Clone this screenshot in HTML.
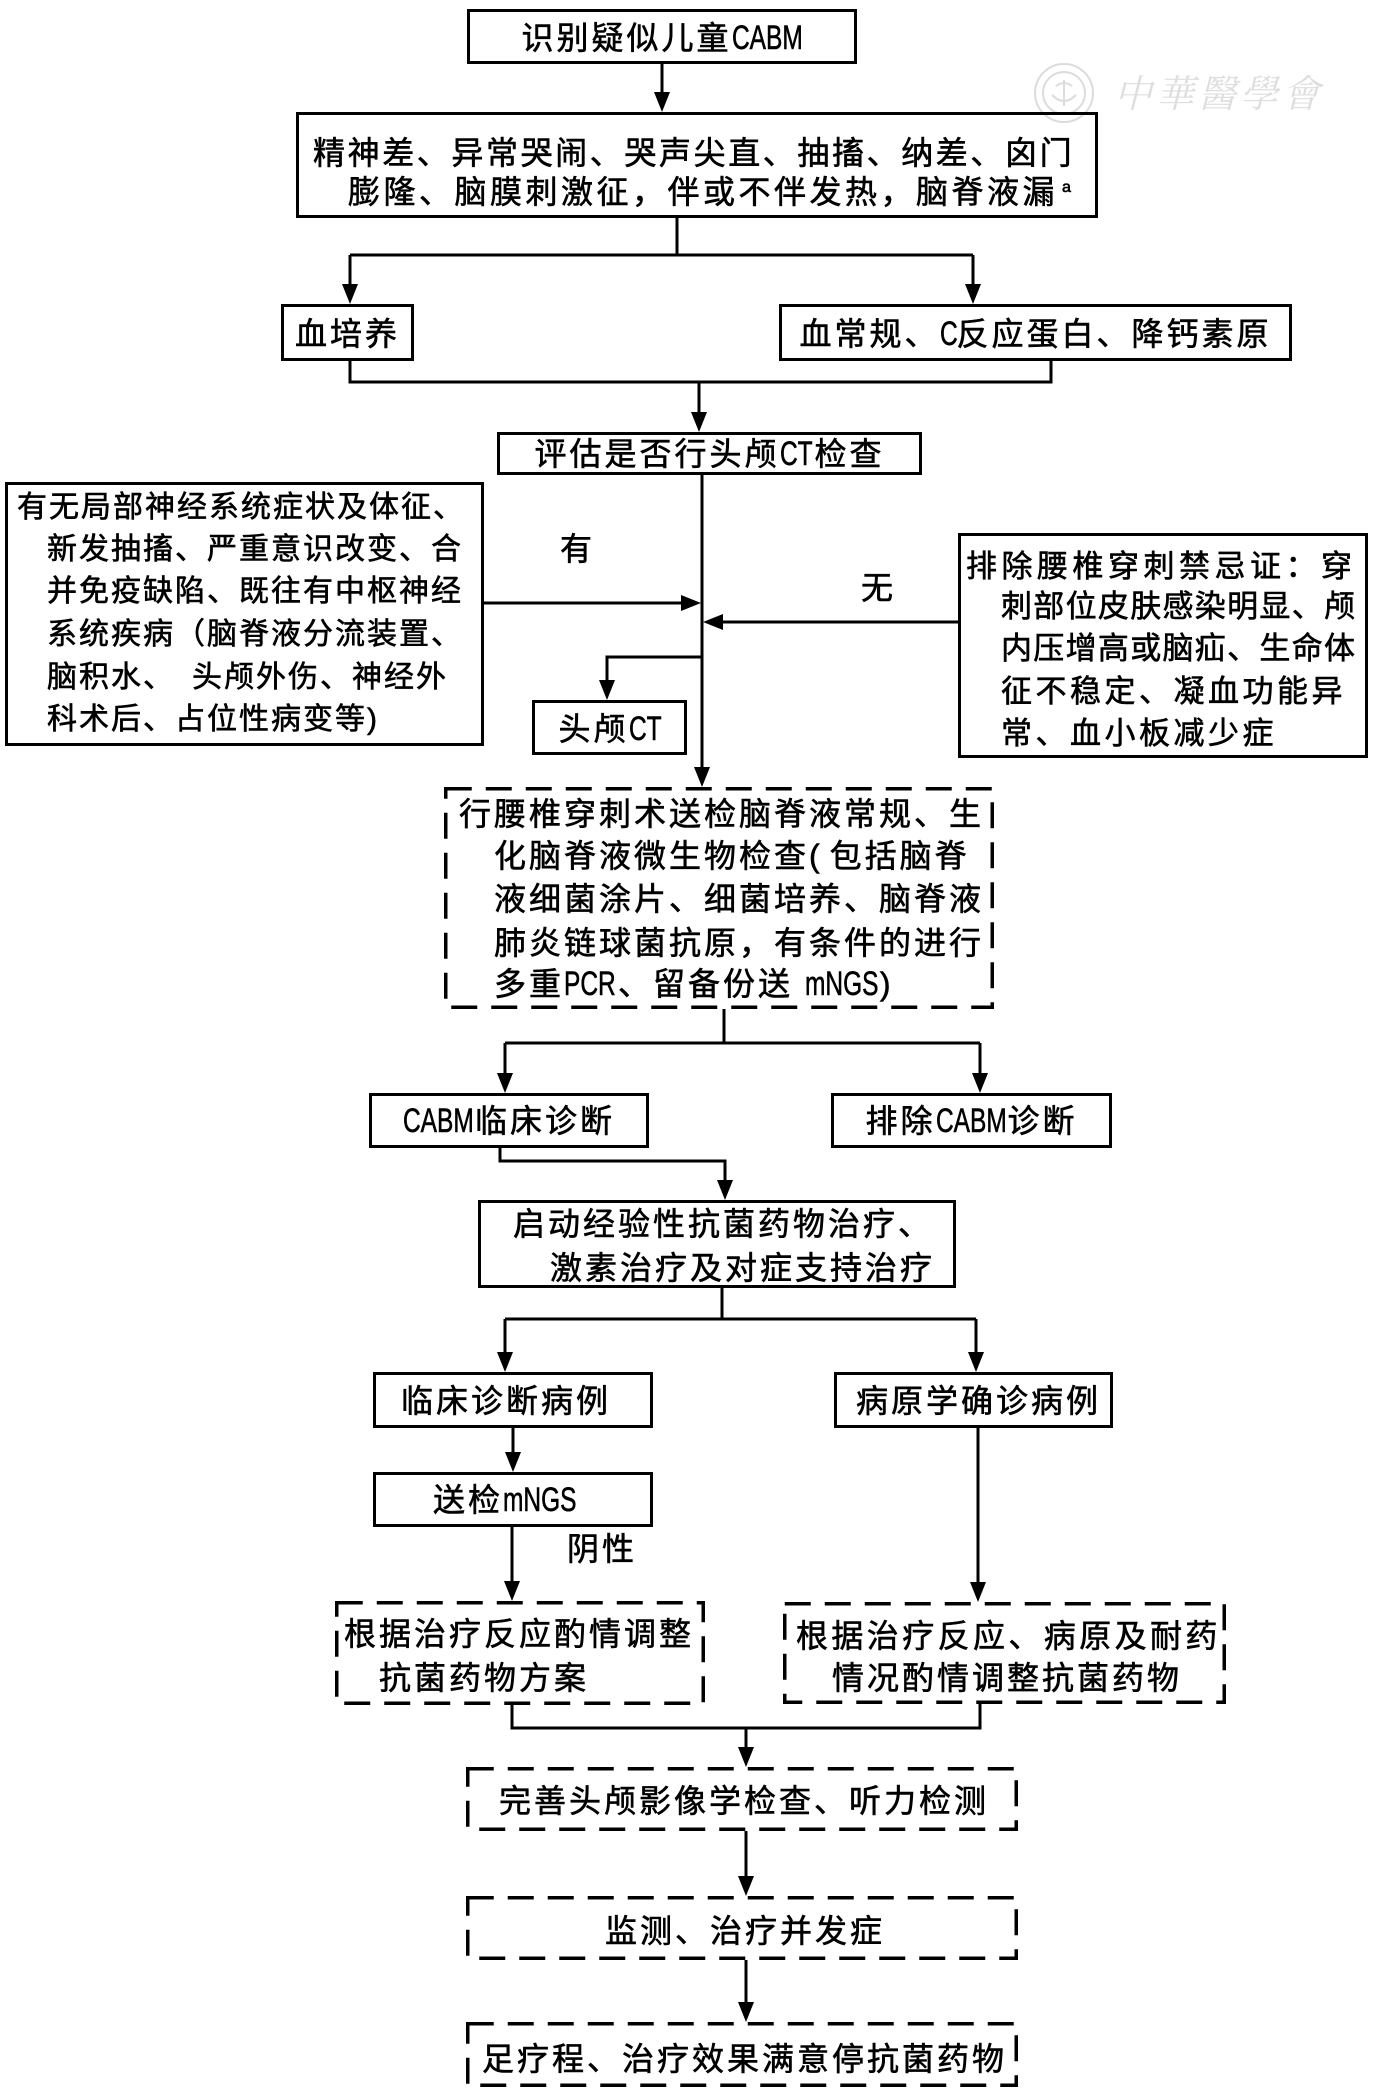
<!DOCTYPE html>
<html><head><meta charset="utf-8">
<style>
html,body{margin:0;padding:0;background:#fff;}
#wrap{position:relative;width:1378px;height:2096px;overflow:hidden;background:#fff;}
svg{position:absolute;left:0;top:0;}
.t{position:absolute;white-space:nowrap;font-family:"Liberation Sans","Noto Sans CJK SC",sans-serif;font-size:32px;line-height:32px;letter-spacing:3px;color:#000;-webkit-text-stroke:0.6px #000;}
.c{text-align:center;}
.L{display:inline-block;white-space:nowrap;letter-spacing:0;font-size:34px;vertical-align:baseline;}
.L b{display:inline-block;font-weight:normal;transform:scaleX(.72);transform-origin:0 0;}
.s30{font-size:30px;line-height:30px;letter-spacing:2px;}
.s31{font-size:31px;line-height:31px;}
.wm{position:absolute;font-family:"Liberation Serif","Noto Serif CJK SC",serif;font-size:38px;line-height:38px;color:#dedede;letter-spacing:4px;transform:skewX(-14deg);white-space:nowrap;}
</style></head><body><div id="wrap">
<svg width="1378" height="2096" viewBox="0 0 1378 2096">
<g fill="none" stroke="#dcdcdc" stroke-width="2">
<circle cx="1064" cy="93" r="29"/>
<circle cx="1064" cy="93" r="21"/>
<path d="M1052 95 q12 12 24 0 M1064 80 v26 M1056 86 q8 -6 16 0"/>
</g>
<g fill="none" stroke="#000" stroke-width="3">
<rect x="468.5" y="10.5" width="387" height="52"/>
<rect x="297.5" y="113.5" width="799" height="103"/>
<rect x="282.5" y="305.5" width="130" height="54"/>
<rect x="780.5" y="305.5" width="510" height="54"/>
<rect x="498.5" y="433.5" width="422" height="40"/>
<rect x="6.5" y="483.5" width="476" height="261"/>
<rect x="959.5" y="534.5" width="407" height="222"/>
<rect x="533.5" y="701.5" width="152" height="52"/>
<rect x="370.5" y="1094.5" width="277" height="52"/>
<rect x="832.5" y="1094.5" width="278" height="52"/>
<rect x="479.5" y="1201.5" width="475" height="85"/>
<rect x="374.5" y="1373.5" width="277" height="53"/>
<rect x="835.5" y="1373.5" width="276" height="53"/>
<rect x="374.5" y="1473.5" width="277" height="52"/>
</g>
<g fill="none" stroke="#000" stroke-width="3.5" stroke-dasharray="26 14">
<rect x="445.75" y="788.75" width="546.5" height="218.5"/>
<rect x="336.75" y="1602.75" width="366.5" height="100.5"/>
<rect x="784.75" y="1603.75" width="439.5" height="98.5"/>
<rect x="467.75" y="1768.75" width="548.5" height="60.5"/>
<rect x="467.75" y="1897.75" width="548.5" height="60.5"/>
<rect x="467.75" y="2023.75" width="548.5" height="61.5"/>
</g>
<g fill="none" stroke="#000" stroke-width="3">
<path d="M662 64 V94"/>
<path d="M677 218 V255 M350 255 H973 M350 255 V286 M973 255 V286"/>
<path d="M350 361 V382 H1051 V361 M699 382 V414"/>
<path d="M702 475 V769"/>
<path d="M484 603 H682"/>
<path d="M958 622 H722"/>
<path d="M702 657 H607 V682"/>
<path d="M724 1009 V1043 M505 1043 H980 M505 1043 V1075 M980 1043 V1075"/>
<path d="M500 1148 V1161 H725 V1182"/>
<path d="M722 1288 V1319 M505 1319 H976 M505 1319 V1354 M976 1319 V1354"/>
<path d="M513 1428 V1454"/>
<path d="M512 1527 V1583"/>
<path d="M978 1428 V1584"/>
<path d="M512 1705 V1728 H980 V1704 M746 1728 V1749"/>
<path d="M746 1831 V1878"/>
<path d="M746 1960 V2004"/>
</g>
<g fill="#000" stroke="none">
<polygon points="654,92 670,92 662,112"/>
<polygon points="342,284 358,284 350,304"/>
<polygon points="965,284 981,284 973,304"/>
<polygon points="691,412 707,412 699,432"/>
<polygon points="694,767 710,767 702,787"/>
<polygon points="681,595 681,611 701,603"/>
<polygon points="723,614 723,630 703,622"/>
<polygon points="599,680 615,680 607,700"/>
<polygon points="497,1073 513,1073 505,1093"/>
<polygon points="972,1073 988,1073 980,1093"/>
<polygon points="717,1180 733,1180 725,1200"/>
<polygon points="497,1352 513,1352 505,1372"/>
<polygon points="968,1352 984,1352 976,1372"/>
<polygon points="505,1452 521,1452 513,1472"/>
<polygon points="504,1581 520,1581 512,1601"/>
<polygon points="970,1582 986,1582 978,1602"/>
<polygon points="738,1747 754,1747 746,1767"/>
<polygon points="738,1876 754,1876 746,1896"/>
<polygon points="738,2002 754,2002 746,2022"/>
</g>
</svg>

<div class="wm" style="left:1117px;top:76px;">中華醫學會</div>

<div class="t c" style="left:467px;width:390px;top:22px;">识别疑似儿童<span class="L" style="width:71px"><b>CABM</b></span></div>

<div class="t" style="left:313px;top:137px;letter-spacing:2.6px;">精神差、异常哭闹、哭声尖直、抽搐、纳差、囟门</div>
<div class="t" style="left:348px;top:176px;letter-spacing:3.5px;">膨隆、脑膜刺激征，伴或不伴发热，脑脊液漏</div>
<div class="t" style="left:1062px;top:180px;font-size:16px;line-height:16px;letter-spacing:0;">a</div>

<div class="t c" style="left:281px;width:133px;top:318px;">血培养</div>
<div class="t c" style="left:779px;width:513px;top:318px;">血常规、<span class="L" style="width:17px"><b>C</b></span>反应蛋白、降钙素原</div>

<div class="t c" style="left:497px;width:425px;top:438px;">评估是否行头颅<span class="L" style="width:35px"><b>CT</b></span>检查</div>

<div class="t s30" style="left:17px;top:493px;">有无局部神经系统症状及体征、</div>
<div class="t s30" style="left:47px;top:535px;">新发抽搐、严重意识改变、合</div>
<div class="t s30" style="left:47px;top:577px;">并免疫缺陷、既往有中枢神经</div>
<div class="t s30" style="left:47px;top:620px;">系统疾病（脑脊液分流装置、</div>
<div class="t s30" style="left:47px;top:663px;">脑积水、　头颅外伤、神经外</div>
<div class="t s30" style="left:47px;top:705px;">科术后、占位性病变等)</div>

<div class="t" style="left:560px;top:533px;">有</div>
<div class="t" style="left:861px;top:572px;">无</div>

<div class="t s31" style="left:966px;top:551px;letter-spacing:4.5px;">排除腰椎穿刺禁忌证：穿</div>
<div class="t s31" style="left:1001px;top:591px;letter-spacing:1.3px;">刺部位皮肤感染明显、颅</div>
<div class="t s31" style="left:1001px;top:633px;letter-spacing:1.3px;">内压增高或脑疝、生命体</div>
<div class="t s31" style="left:1001px;top:676px;letter-spacing:3.5px;">征不稳定、凝血功能异</div>
<div class="t s31" style="left:1001px;top:718px;letter-spacing:3.5px;">常、血小板减少症</div>

<div class="t c" style="left:532px;width:155px;top:713px;">头颅<span class="L" style="width:32px"><b>CT</b></span></div>

<div class="t" style="left:459px;top:798px;">行腰椎穿刺术送检脑脊液常规、生</div>
<div class="t" style="left:494px;top:840px;">化脑脊液微生物检查<span style="letter-spacing:10px">(</span>包括脑脊</div>
<div class="t" style="left:494px;top:883px;">液细菌涂片、细菌培养、脑脊液</div>
<div class="t" style="left:494px;top:927px;">肺炎链球菌抗原，有条件的进行</div>
<div class="t" style="left:494px;top:968px;">多重<span class="L" style="width:54px"><b>PCR</b></span>、留备份送 <span class="L" style="width:75px"><b>mNGS</b></span>)</div>

<div class="t c" style="left:369px;width:280px;top:1105px;"><span class="L" style="width:72px"><b>CABM</b></span>临床诊断</div>
<div class="t c" style="left:831px;width:281px;top:1105px;">排除<span class="L" style="width:72px"><b>CABM</b></span>诊断</div>

<div class="t" style="left:513px;top:1208px;">启动经验性抗菌药物治疗、</div>
<div class="t" style="left:550px;top:1252px;">激素治疗及对症支持治疗</div>

<div class="t" style="left:401px;top:1385px;">临床诊断病例</div>
<div class="t" style="left:856px;top:1385px;">病原学确诊病例</div>
<div class="t" style="left:433px;top:1484px;">送检<span class="L" style="width:75px"><b>mNGS</b></span></div>
<div class="t" style="left:567px;top:1533px;">阴性</div>

<div class="t" style="left:344px;top:1618px;">根据治疗反应酌情调整</div>
<div class="t" style="left:379px;top:1662px;">抗菌药物方案</div>
<div class="t" style="left:796px;top:1620px;letter-spacing:3.4px;">根据治疗反应、病原及耐药</div>
<div class="t" style="left:832px;top:1662px;">情况酌情调整抗菌药物</div>

<div class="t" style="left:499px;top:1785px;">完善头颅影像学检查、听力检测</div>
<div class="t" style="left:605px;top:1915px;">监测、治疗并发症</div>
<div class="t" style="left:482px;top:2043px;">足疗程、治疗效果满意停抗菌药物</div>

</div></body></html>
